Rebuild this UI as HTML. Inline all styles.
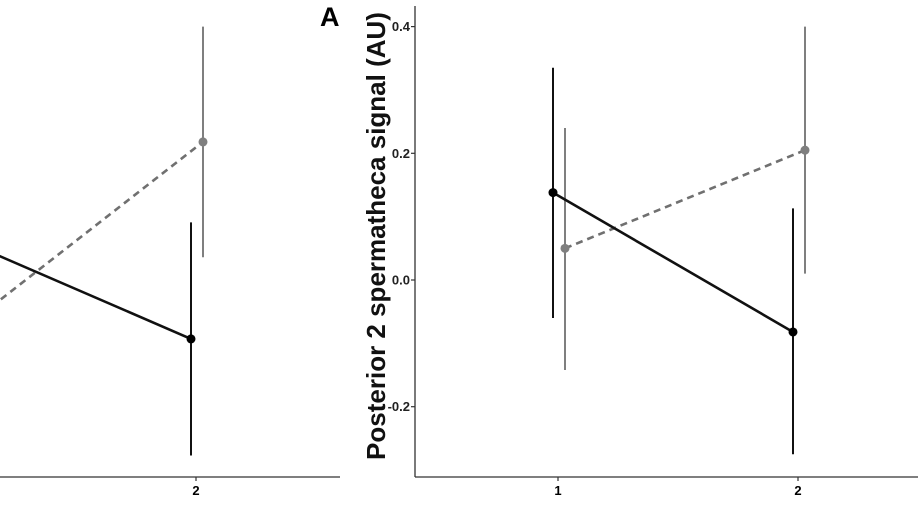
<!DOCTYPE html>
<html><head><meta charset="utf-8"><style>
body{margin:0;background:#fff;}
svg{display:block;font-family:"Liberation Sans",sans-serif;}
</style></head><body>
<svg width="918" height="517" id="fig">
<rect width="918" height="517" fill="#fff"/>
<text x="320" y="26" font-size="27" font-weight="bold">A</text>
<text transform="translate(385,236) rotate(-90)" text-anchor="middle" font-size="26" font-weight="bold" fill="#111">Posterior 2 spermatheca signal (AU)</text>
<g id="left"></g>
<g id="right"></g>
</svg>
<script>
const categories=[1,2];
const yTicks=[0.4,0.2,0.0,-0.2];
const yTickLabels=["0.4","0.2","0.0","-0.2"];
// right panel
const rBlackMean=[0.138,-0.082], rBlackLo=[-0.060,-0.275], rBlackHi=[0.335,0.113];
const rGrayMean=[0.050,0.205], rGrayLo=[-0.142,0.010], rGrayHi=[0.240,0.400];
// left panel (cut off)
const lBlackMean=[0.071,-0.093], lBlackLo=[-0.10,-0.277], lBlackHi=[0.25,0.091];
const lGrayMean=[-0.077,0.218], lGrayLo=[-0.25,0.036], lGrayHi=[0.10,0.400];

const NS="http://www.w3.org/2000/svg";
function mk(parent,tag,attrs){const e=document.createElementNS(NS,tag);for(const k in attrs)e.setAttribute(k,attrs[k]);parent.appendChild(e);return e;}
const yS=v=>280-v*633.5;

function panel(g,xS,bm,bl,bh,gm,gl,gh,axisX0,axisX1,withY){
  const ax=mk(g,'line',{x1:axisX0,y1:477,x2:axisX1,y2:477,stroke:'#333','stroke-width':1.3});
  
  
  categories.forEach((c,i)=>{
    const x=xS(c);
    mk(g,'line',{x1:x,y1:477,x2:x,y2:481,stroke:'#333','stroke-width':1.2});
    const t=mk(g,'text',{x:x,y:495,'text-anchor':'middle','font-size':13,'font-weight':'bold'});
    t.textContent=String(c);
    
    
  });
  if(withY){
    const ya=mk(g,'line',{x1:415,y1:6,x2:415,y2:477,stroke:'#333','stroke-width':1.3});
    
    
    yTicks.forEach((v,i)=>{
      const y=yS(v);
      mk(g,'line',{x1:411,y1:y,x2:415,y2:y,stroke:'#333','stroke-width':1.2});
      const t=mk(g,'text',{x:410,y:y+4.5,'text-anchor':'end','font-size':13,'font-weight':'bold',fill:'#222'});
      t.textContent=yTickLabels[i];
      
      
    });
  }
  const xb=c=>xS(c)-5, xg=c=>xS(c)+7;
  categories.forEach((c,i)=>{
    const e=mk(g,'line',{x1:xg(c),y1:yS(gl[i]),x2:xg(c),y2:yS(gh[i]),stroke:'#7f7f7f','stroke-width':2});
    
    
  });
  const gp=mk(g,'polyline',{points:categories.map((c,i)=>xg(c)+','+yS(gm[i])).join(' '),fill:'none',stroke:'#707070','stroke-width':2.6,'stroke-dasharray':'7,5'});
  
  
  categories.forEach((c,i)=>{
    const p=mk(g,'circle',{cx:xg(c),cy:yS(gm[i]),r:4.5,fill:'#7f7f7f'});
    
    
  });
  categories.forEach((c,i)=>{
    const e=mk(g,'line',{x1:xb(c),y1:yS(bl[i]),x2:xb(c),y2:yS(bh[i]),stroke:'#111','stroke-width':2});
    
    
  });
  const bp=mk(g,'polyline',{points:categories.map((c,i)=>xb(c)+','+yS(bm[i])).join(' '),fill:'none',stroke:'#111','stroke-width':2.6});
  
  
  categories.forEach((c,i)=>{
    const p=mk(g,'circle',{cx:xb(c),cy:yS(bm[i]),r:4.5,fill:'#000'});
    
    
  });
}
const xR=c=>558+(c-1)*240;
const xL=c=>-44+(c-1)*240;
panel(document.getElementById('left'),xL,lBlackMean,lBlackLo,lBlackHi,lGrayMean,lGrayLo,lGrayHi,0,340,false);
panel(document.getElementById('right'),xR,rBlackMean,rBlackLo,rBlackHi,rGrayMean,rGrayLo,rGrayHi,415,918,true);
</script>
</body></html>
